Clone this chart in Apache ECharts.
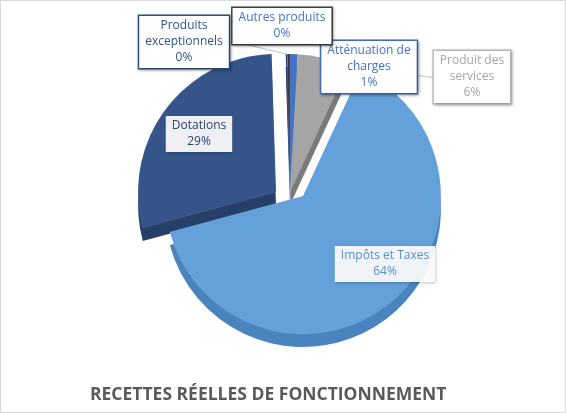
<!DOCTYPE html>
<html>
<head>
<meta charset="utf-8">
<script src="https://cdn.jsdelivr.net/npm/echarts@6/dist/echarts.min.js"></script>
<style>
  html, body { margin: 0; padding: 0; background: #fff; }
  #chart { width: 564px; height: 411px; border: 1px solid #d9d9d9; }
</style>
</head>
<body>
<div id="chart"></div>
<script>
// données (ordre horaire depuis midi)
const categories = ['Atténuation de charges', 'Produit des services', 'Impôts et Taxes', 'Dotations', 'Produits exceptionnels', 'Autres produits'];
const labelNames = ['Atténuation de\ncharges', 'Produit des\nservices', 'Impôts et Taxes', 'Dotations', 'Produits\nexceptionnels', 'Autres produits'];
const values = [0.9, 6.0, 63.9, 28.7, 0.2, 0.3];

// couleurs du dessus et du flanc
const topColors = ['#4472c4', '#a5a5a5', '#64a0da', '#35558a', '#264478', '#3a3a3a'];
const sideColors = ['#2f5597', '#7a7a7a', '#4a84be', '#263f69', '#1b3257', '#262626'];

// position des étiquettes (centre de la boîte)
const labelPos = [[368, 66], [471, 76], [384, 263], [198, 133], [183, 41], [281, 25]];
const labelStyle = [
  { color: '#4472c4', borderColor: '#4472c4', bg: '#fff' },
  { color: '#a6a6a6', borderColor: '#bfbfbf', bg: '#fff' },
  { color: '#5b8fc9', borderColor: 'transparent', bg: 'rgba(255,255,255,0.92)' },
  { color: '#2a4470', borderColor: 'transparent', bg: 'rgba(255,255,255,0.92)' },
  { color: '#2f5582', borderColor: '#2f5582', bg: '#fff' },
  { color: '#4472c4', borderColor: '#404040', bg: '#fff' }
];

// parts éclatées : centre propre à chaque groupe
const radius = 138;
const depth = 13;
const groups = [
  { center: [289, 191], items: [0, 1, 4, 5] },
  { center: [302, 195], items: [2] },
  { center: [275, 191], items: [3] }
];

const myChart = echarts.init(document.getElementById('chart'));

function pieData(visible, colors) {
  return categories.map((name, i) => {
    const shown = visible.includes(i);
    return {
      name,
      value: values[i],
      itemStyle: shown
        ? { color: colors[i], borderColor: 'rgba(255,255,255,0.12)', borderWidth: 0.5 }
        : { color: 'transparent', borderWidth: 0 }
    };
  });
}

function pieBase(center, z) {
  return {
    type: 'pie',
    center: center,
    radius: radius,
    startAngle: 90,
    clockwise: true,
    silent: true,
    z: z,
    percentPrecision: 0,
    avoidLabelOverlap: false,
    label: { show: false },
    labelLine: { show: false }
  };
}

const series = [];

// flancs (effet 3D)
groups.forEach(g => {
  series.push(Object.assign(pieBase([g.center[0], g.center[1] + depth], 1), {
    data: pieData(g.items, sideColors)
  }));
});

// dessus
groups.forEach(g => {
  series.push(Object.assign(pieBase(g.center, 3), {
    data: pieData(g.items, topColors)
  }));
});

// étiquettes
series.push(Object.assign(pieBase(groups[0].center, 5), {
  label: {
    show: true,
    position: 'outside',
    formatter: p => labelNames[p.dataIndex] + '\n' + p.percent + '%',
    fontFamily: 'Open Sans',
    fontSize: 12,
    lineHeight: 16,
    align: 'center',
    borderWidth: 1.5,
    padding: [2, 6],
    shadowColor: 'rgba(0,0,0,0.3)',
    shadowBlur: 3,
    shadowOffsetX: 1,
    shadowOffsetY: 1
  },
  labelLine: {
    show: true,
    length: 5,
    length2: 5,
    lineStyle: { color: '#bfbfbf', width: 1 }
  },
  labelLayout: params => ({
    x: labelPos[params.dataIndex][0],
    y: labelPos[params.dataIndex][1],
    align: 'center',
    verticalAlign: 'middle'
  }),
  data: categories.map((name, i) => ({
    name,
    value: values[i],
    itemStyle: { color: 'transparent', borderWidth: 0 },
    label: {
      color: labelStyle[i].color,
      borderColor: labelStyle[i].borderColor,
      backgroundColor: labelStyle[i].bg
    },
    labelLine: { show: i === 1 || i === 4 }
  }))
}));

const option = {
  animation: false,
  title: {
    text: 'RECETTES RÉELLES DE FONCTIONNEMENT',
    left: 84,
    top: 380,
    textStyle: {
      fontFamily: 'Open Sans',
      fontSize: 17.5,
      fontWeight: 'bold',
      color: '#595959'
    }
  },
  series: series
};

myChart.setOption(option);
</script>
</body>
</html>
